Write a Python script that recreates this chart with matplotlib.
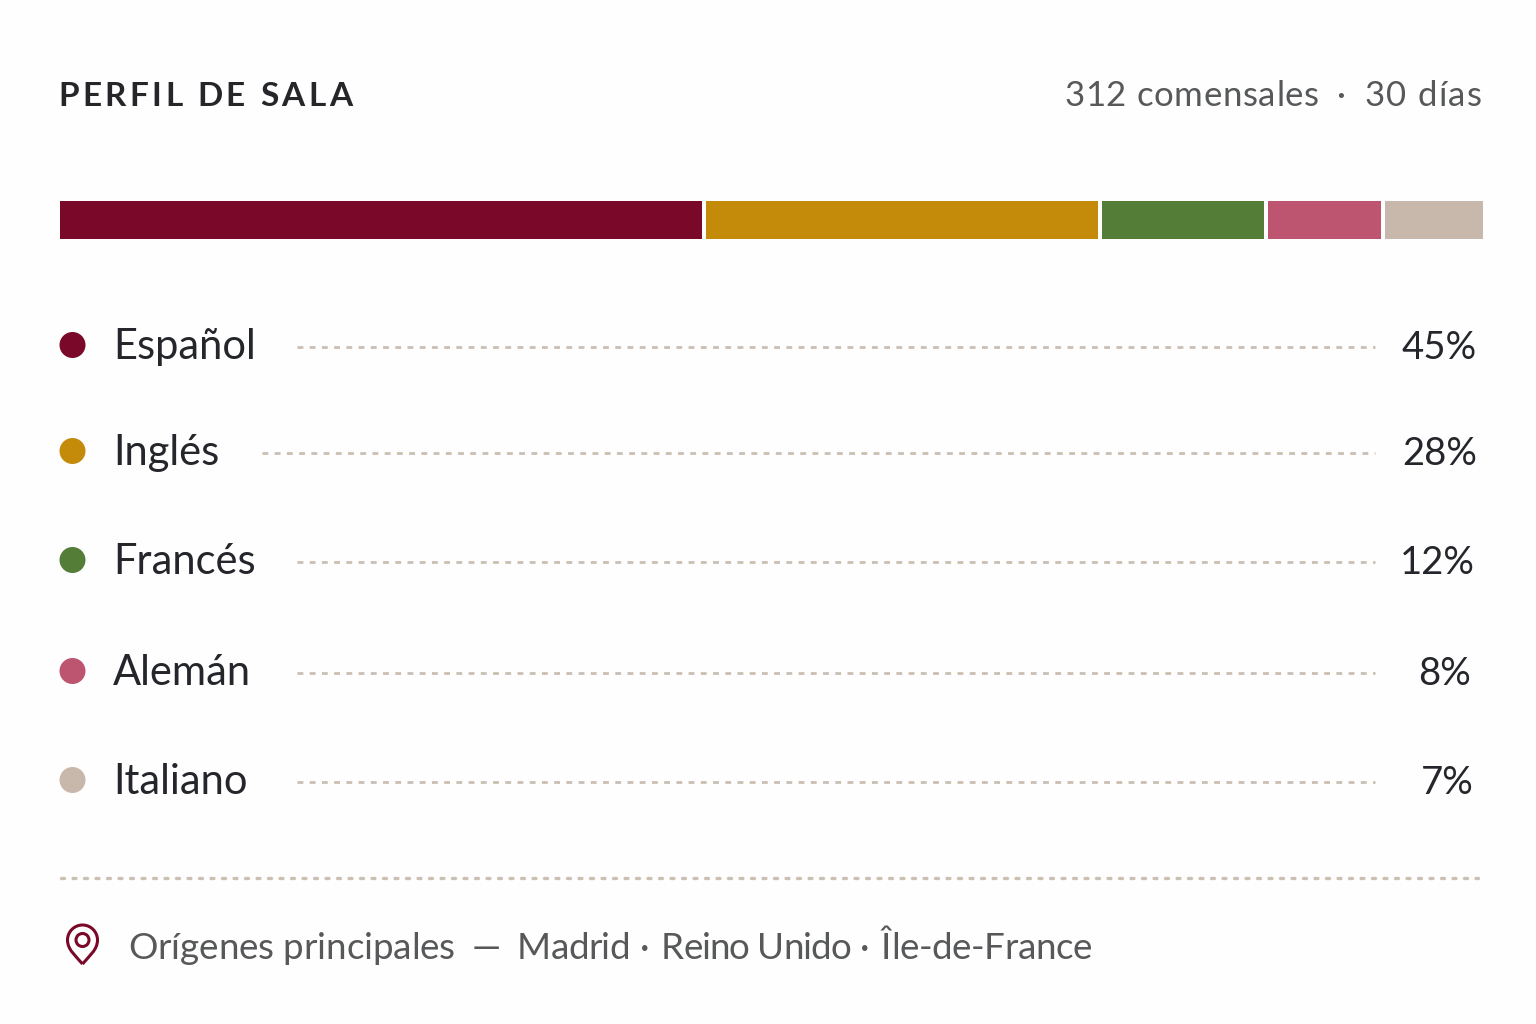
import matplotlib
matplotlib.use("Agg")
import numpy as np
from matplotlib import pyplot as plt
from matplotlib.patches import Circle, PathPatch
from matplotlib.path import Path

# data
idiomas = ["Español", "Inglés", "Francés", "Alemán", "Italiano"]
porcentajes = [45, 28, 12, 8, 7]
# segment shares as measured on the bar, they differ a little from the labels
tramos = [45.26, 27.76, 11.67, 8.15, 7.17]
colores = ["#7a0828", "#c48b0a", "#547d38", "#bd5470", "#c8b8ab"]
titulo = "PERFIL DE SALA"
pie_partes = ["Orígenes principales", "—", "Madrid", "·", "Reino Unido", "·", "Île-de-France"]

# layout in pixels
W, H = 1536, 1024
fila_y = [345, 451, 560, 671, 780]
guia_x0 = [297, 262, 297, 297, 297]
pct_x1 = [1477, 1477, 1475, 1471, 1474]
pie_x = [128, 486, 517, 645, 661, 865, 881]
pie_ancho = [327, 0, 113, 0, 190, 0, 211]
fondo = "#fefefe"
punteado = "#cbbfb2"

plt.rcParams["font.family"] = ["Lato", "DejaVu Sans"]

fig = plt.figure(figsize=(W / 100, H / 100), dpi=100, facecolor=fondo)
ax = fig.add_axes([0, 0, 1, 1])
ax.set_xlim(0, W)
ax.set_ylim(H, 0)
ax.axis("off")


def espaciado(x, y, s, ancho, **kw):
    # matplotlib has no letter-spacing, so place char by char
    r = fig.canvas.get_renderer()
    def mide(t):
        tmp = ax.text(0, 0, t, **kw)
        w = tmp.get_window_extent(r).width
        tmp.remove()
        return w
    base = mide("|")
    extra = (ancho - (mide(s + "|") - base)) / (len(s) - 1)
    for i, c in enumerate(s):
        if c != " ":
            ax.text(x + mide(s[:i] + "|") - base + i * extra, y, c, ha="left", va="baseline", **kw)


# header
espaciado(58, 106, titulo, 294, fontsize=24, fontweight="bold", color="#26262a")
espaciado(1064, 106, "312 comensales", 255, fontsize=25, color="#57585a")
ax.text(1341, 106, "·", fontsize=25, color="#57585a", ha="center", va="baseline")
espaciado(1364, 106, "30 días", 118, fontsize=25, color="#57585a")

# stacked bar
ax_bar = fig.add_axes([60 / W, 1 - 239 / H, 1423 / W, 38 / H])
hueco = 0.28
izq = 0
for v, c in zip(tramos, colores):
    ax_bar.barh(0, v - hueco, left=izq, height=1, color=c)
    izq += v
ax_bar.set_xlim(0, izq - hueco)
ax_bar.set_ylim(-0.5, 0.5)
ax_bar.axis("off")

# rows
for nombre, v, c, y, x0, x1 in zip(idiomas, porcentajes, colores, fila_y, guia_x0, pct_x1):
    ax.add_patch(Circle((72.5, y), 13, color=c, lw=0))
    ax.text(113, y + 14, nombre, fontsize=30, color="#24262b", va="baseline")
    ax.plot([x0, 1375], [y + 2, y + 2], color=punteado, lw=2, dashes=(2.1, 2.3))
    ax.text(x1, y + 14, f"{v}%", fontsize=27.5, color="#24262b", ha="right", va="baseline")

# footer
ax.plot([61, 1478], [878, 878], color=punteado, lw=2.4, dashes=(0.9, 2.55), dash_capstyle="round")

pin = Path(
    [(82.5, 964), (76, 956), (67.5, 950), (67.5, 940), (67.5, 932), (74, 925), (82.5, 925),
     (91, 925), (97.5, 932), (97.5, 940), (97.5, 950), (89, 956), (82.5, 964)],
    [Path.MOVETO] + [Path.CURVE4] * 12,
)
ax.add_patch(PathPatch(pin, fc="none", ec="#7a0828", lw=2.2, joinstyle="round"))
ax.add_patch(Circle((82.5, 940), 6.5, fc="none", ec="#7a0828", lw=2.2))
for parte, x, ancho in zip(pie_partes, pie_x, pie_ancho):
    if ancho:
        espaciado(x, 959, parte, ancho, fontsize=26.5, color="#57585a")
    else:
        ax.text(x, 959, parte, fontsize=26.5, color="#57585a", ha="center", va="baseline")

fig.savefig("out.png", dpi=100, facecolor=fondo)
